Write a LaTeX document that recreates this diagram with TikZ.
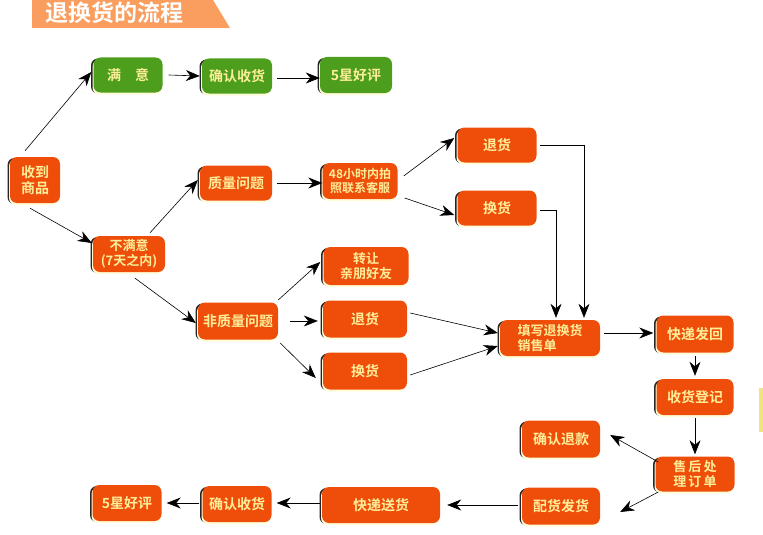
\documentclass[tikz,border=0pt]{standalone}
\usepackage{fontspec}
\setmainfont{Noto Sans CJK SC}[BoldFont={* Bold}]
\usetikzlibrary{arrows.meta}
\definecolor{boxor}{HTML}{EE4E0A}
\definecolor{boxgr}{HTML}{4C9E1C}
\definecolor{txtyel}{HTML}{FFEE99}
\definecolor{banner}{HTML}{F99E5E}
\definecolor{barcol}{HTML}{F2E47A}
\tikzset{
  box/.style={rounded corners=7pt, fill=boxor, text=txtyel, font=\fontsize{14}{16}\selectfont\bfseries,
    align=center, inner sep=1pt,
    preaction={fill=black!85, transform canvas={xshift=-2.5pt,yshift=-1pt}},
    preaction={fill=white!85!yellow, transform canvas={xshift=-1pt,yshift=-2pt}}},
  gbox/.style={box, fill=boxgr},
  arr/.style={-{Stealth[length=14pt,width=11pt,inset=4.5pt]}, line width=0.6pt},
}
\begin{document}
\begin{tikzpicture}[x=1pt,y=-1pt]
\useasboundingbox (0,0) rectangle (763,535);
% title banner
\fill[banner] (32,0) -- (213,0) -- (230,28) -- (32,28) -- cycle;
\node[text=white, font=\fontsize{23}{24}\selectfont\bfseries, anchor=west, inner sep=0pt] (title) at (45,13) {退换货的流程};
% yellow bar
\path[fill=barcol] (759,388) rectangle (763,432);

% green row
\node[gbox, minimum width=69pt, minimum height=35pt] (my) at (128,75) {满\quad 意};
\node[gbox, minimum width=70pt, minimum height=35pt] (qr1) at (237,76) {确认收货};
\node[gbox, minimum width=72pt, minimum height=36pt] (hp1) at (356,75) {5星好评};

% orange
\node[box, minimum width=50pt, minimum height=46pt] (sd) at (35,180) {收到\\商品};
\node[box, minimum width=72pt, minimum height=36pt, font=\fontsize{13}{15}\selectfont\bfseries] (bmy) at (129,254) {不满意\\(7天之内)};
\node[box, minimum width=72pt, minimum height=35pt] (zl) at (236,183) {质量问题};
\node[box, minimum width=75pt, minimum height=36pt, font=\fontsize{12}{14}\selectfont\bfseries] (lx) at (360,181) {48小时内拍\\照联系客服};
\node[box, minimum width=79pt, minimum height=35pt] (th1) at (497,145) {退货};
\node[box, minimum width=79pt, minimum height=35pt] (hh1) at (497,208) {换货};
\node[box, minimum width=85pt, minimum height=38pt, font=\fontsize{13}{15}\selectfont\bfseries] (zr) at (366,266) {转让\\亲朋好友};
\node[box, minimum width=80pt, minimum height=37pt] (fzl) at (238,321) {非质量问题};
\node[box, minimum width=84pt, minimum height=37pt] (th2) at (365,319) {退货};
\node[box, minimum width=84pt, minimum height=37pt] (hh2) at (365,371) {换货};
\node[box, minimum width=100pt, minimum height=36pt, align=left, font=\fontsize{13}{15}\selectfont\bfseries] (tx) at (550,338) {填写退换货\\销售单};
\node[box, minimum width=77pt, minimum height=37pt] (kd) at (695,334) {快递发回};
\node[box, minimum width=77pt, minimum height=36pt] (sh) at (695,397) {收货登记};
\node[box, minimum width=78pt, minimum height=37pt] (tk) at (561,439) {确认退款};
\node[box, minimum width=79pt, minimum height=35pt, font=\fontsize{13}{15}\selectfont\bfseries] (cl) at (695,474) {售\,后\,处\\理\,订\,单};
\node[box, minimum width=78pt, minimum height=37pt] (ph) at (561,506) {配货发货};
\node[box, minimum width=118pt, minimum height=36pt] (ks) at (381,505) {快递送货};
\node[box, minimum width=69pt, minimum height=36pt] (qr2) at (237,504) {确认收货};
\node[box, minimum width=69pt, minimum height=36pt] (hp2) at (127,503) {5星好评};

% connectors
\draw[arr] ([xshift=-10pt,yshift=6pt]sd.north) -- ([xshift=-2pt,yshift=3pt]my.west);
\draw[arr] ([xshift=-5pt,yshift=-5pt]sd.south) -- ([xshift=-1pt,yshift=11pt]bmy.west);
\draw[arr] ([xshift=6pt]my.east) -- ([xshift=-2pt]qr1.west);
\draw[arr] ([xshift=5pt,yshift=-2pt]qr1.east) -- ([yshift=-3pt]hp1.west);
\draw[arr] ([xshift=21pt,yshift=3pt]bmy.north) -- ([xshift=-2pt,yshift=3pt]zl.west);
\draw[arr] ([xshift=6pt,yshift=-6pt]bmy.south) -- ([yshift=-2pt,xshift=-2pt]fzl.west);
\draw[arr] ([xshift=5pt]zl.east) -- ([yshift=-2pt]lx.west);
\draw[arr] ([xshift=6pt,yshift=5pt]lx.east) -- ([yshift=7pt,xshift=-3pt]th1.west);
\draw[arr] ([xshift=7pt,yshift=-17pt]lx.east) -- ([yshift=-7pt,xshift=-3pt]hh1.west);
\draw[arr] ([xshift=3pt]th1.east) -| ([xshift=34pt,yshift=2pt]tx.north);
\draw[arr] ([xshift=3pt,yshift=-2pt]hh1.east) -| ([xshift=6pt,yshift=2pt]tx.north);
\draw[arr] ([yshift=21pt]fzl.east) -- ([yshift=4pt,xshift=-3pt]zr.west);
\draw[arr] ([xshift=12pt]fzl.east) -- ([xshift=-5pt,yshift=-2pt]th2.west);
\draw[arr] ([xshift=2pt,yshift=-22pt]fzl.east) -- ([xshift=-7pt,yshift=-7pt]hh2.west);
\draw[arr] ([xshift=3pt,yshift=6pt]th2.east) -- ([yshift=5pt,xshift=-2pt]tx.west);
\draw[arr] ([xshift=3pt,yshift=-4pt]hh2.east) -- ([yshift=-8pt,xshift=-2pt]tx.west);
\draw[arr] ([xshift=4pt,yshift=5pt]tx.east) -- ([yshift=1pt,xshift=-3pt]kd.west);
\draw[arr] ([yshift=-3pt]kd.south) -- ([yshift=3pt]sh.north);
\draw[arr] ([yshift=-3pt]sh.south) -- ([yshift=2pt]cl.north);
\draw[arr] ([yshift=12pt,xshift=3pt]cl.west) -- ([xshift=10pt,yshift=4pt]tk.east);
\draw[arr] ([yshift=-18pt,xshift=3pt]cl.west) -- ([xshift=20pt,yshift=-6pt]ph.east);
\draw[arr] ([xshift=-4pt,yshift=1pt]ph.west) -- ([xshift=7pt]ks.east);
\draw[arr] ([xshift=-2pt,yshift=2pt]ks.west) -- ([xshift=5pt,yshift=1pt]qr2.east);
\draw[arr] ([xshift=-3pt,yshift=1pt]qr2.west) -- ([xshift=5pt]hp2.east);
\end{tikzpicture}
\end{document}
